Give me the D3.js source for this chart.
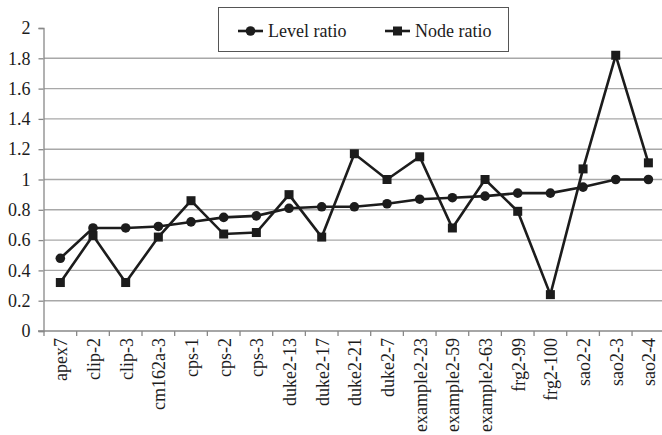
<!DOCTYPE html>
<html><head><meta charset="utf-8">
<script src="https://cdn.jsdelivr.net/npm/d3@7"></script>
<style>body{margin:0;background:#fff}svg{display:block}</style>
</head><body><svg id="c" width="662" height="435"></svg>
<script>
const categories = ["apex7","clip-2","clip-3","cm162a-3","cps-1","cps-2","cps-3","duke2-13","duke2-17","duke2-21","duke2-7","example2-23","example2-59","example2-63","frg2-99","frg2-100","sao2-2","sao2-3","sao2-4"];
const levelRatio = [0.48,0.68,0.68,0.69,0.72,0.75,0.76,0.81,0.82,0.82,0.84,0.87,0.88,0.89,0.91,0.91,0.95,1.0,1.0];
const nodeRatio  = [0.32,0.63,0.32,0.62,0.86,0.64,0.65,0.90,0.62,1.17,1.0,1.15,0.68,1.0,0.79,0.24,1.07,1.82,1.11];
const yTicks = [0,0.2,0.4,0.6,0.8,1,1.2,1.4,1.6,1.8,2];
const seriesNames = ["Level ratio","Node ratio"];

const FONT = "'Liberation Serif', 'Times New Roman', Times, serif";
const svg = d3.select("#c");
const x = d3.scaleBand().domain(categories).range([44, 44 + 19*32.67]);
const y = d3.scaleLinear().domain([0,2]).range([331, 28]);
const ink = "#1c1c1c";

// gridlines
svg.append("g").selectAll("line").data(yTicks.filter(t => t > 0 && t < 2)).join("line")
  .attr("x1", 44).attr("x2", 662).attr("y1", d => y(d)).attr("y2", d => y(d))
  .attr("stroke", "#a8a8a8").attr("stroke-width", 1.4);

// y axis
const ya = svg.append("g").attr("transform", "translate(43.5,0)")
  .call(d3.axisLeft(y).tickValues(yTicks).tickFormat(d3.format("~g")).tickSize(5).tickPadding(8))
  .attr("font-family", null).attr("font-size", null);
ya.select(".domain").attr("stroke", "#888").attr("stroke-width", 1.3);
ya.selectAll(".tick line").attr("stroke", "#888").attr("stroke-width", 1.3);
ya.selectAll("text").style("font-family", FONT).style("font-size", "18px").attr("fill", ink);

// x axis
const xa = svg.append("g").attr("transform", "translate(0,331)");
xa.append("line").attr("x1", 38).attr("x2", 662).attr("y1", 0).attr("y2", 0).attr("stroke", "#888").attr("stroke-width", 1.3);
xa.selectAll("line.tk").data(categories).join("line").attr("class", "tk")
  .attr("x1", d => x(d)).attr("x2", d => x(d)).attr("y1", 0).attr("y2", 5)
  .attr("stroke", "#888").attr("stroke-width", 1.3);
xa.selectAll("text").data(categories).join("text")
  .attr("transform", d => `translate(${x(d) + x.bandwidth()/2},7) rotate(-90)`)
  .attr("text-anchor", "end").attr("dy", "0.38em")
  .style("font-family", FONT).style("font-size", "18px").attr("fill", ink).text(d => d);

const cx = (d, i) => x(categories[i]) + x.bandwidth()/2;
const line = d3.line().x(cx).y(d => y(d));

svg.append("path").datum(levelRatio).attr("d", line).attr("fill", "none").attr("stroke", ink).attr("stroke-width", 2.6);
svg.append("path").datum(nodeRatio).attr("d", line).attr("fill", "none").attr("stroke", ink).attr("stroke-width", 2.6);

svg.append("g").selectAll("circle").data(levelRatio).join("circle")
  .attr("cx", cx).attr("cy", d => y(d)).attr("r", 4.8).attr("fill", ink);
svg.append("g").selectAll("rect").data(nodeRatio).join("rect")
  .attr("x", (d, i) => cx(d, i) - 4.5).attr("y", d => y(d) - 4.5).attr("width", 9).attr("height", 9).attr("fill", ink);

// legend
const lg = svg.append("g");
lg.append("rect").attr("x", 218.5).attr("y", 7.5).attr("width", 290).attr("height", 44)
  .attr("fill", "#fff").attr("stroke", "#555").attr("stroke-width", 1);
const items = [{name: seriesNames[0], x: 238, shape: "circle"}, {name: seriesNames[1], x: 385, shape: "rect"}];
items.forEach(it => {
  lg.append("line").attr("x1", it.x).attr("x2", it.x + 25).attr("y1", 31).attr("y2", 31).attr("stroke", ink).attr("stroke-width", 2.6);
  if (it.shape === "circle") lg.append("circle").attr("cx", it.x + 12.5).attr("cy", 31).attr("r", 4.8).attr("fill", ink);
  else lg.append("rect").attr("x", it.x + 8).attr("y", 26.5).attr("width", 9).attr("height", 9).attr("fill", ink);
  lg.append("text").attr("x", it.x + 30).attr("y", 31).attr("dy", "0.35em")
    .style("font-family", FONT).style("font-size", "18px").attr("fill", ink).text(it.name);
});
</script></body></html>
